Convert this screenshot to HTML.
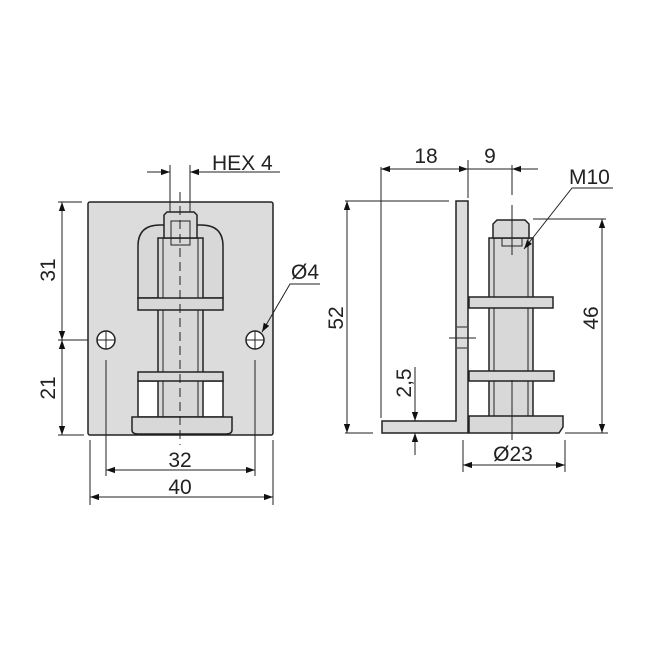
<!DOCTYPE html>
<html><head><meta charset="utf-8"><style>html,body{margin:0;padding:0;background:#fff}svg{display:block}</style></head>
<body>
<svg width="650" height="650" viewBox="0 0 650 650" xmlns="http://www.w3.org/2000/svg">
<defs>
<marker id="a" viewBox="0 0 10 10" refX="10" refY="5" markerWidth="9" markerHeight="9" orient="auto-start-reverse" markerUnits="userSpaceOnUse"><path d="M0,1.5 L10,5 L0,8.5 Z" fill="#111"/></marker>
</defs>
<g font-family="Liberation Sans, sans-serif" font-size="21" fill="#222">
<!-- LEFT VIEW -->
<g stroke="#222" stroke-width="1.5">
<rect x="88" y="202" width="185" height="233" rx="2" fill="#dcdcdc"/>
<path d="M138,298 V246 Q138,225 160,225 H201 Q223,225 223,246 V298 Z" fill="#d8d8d8"/>
<rect x="138" y="381" width="85" height="36" fill="#fff"/>
<rect x="158" y="238" width="45" height="179" fill="#d8d8d8"/>
<line x1="163" y1="238" x2="163" y2="417" stroke-width="1"/>
<line x1="198" y1="238" x2="198" y2="417" stroke-width="1"/>
<path d="M164,238 V215 L167,212 H194 L197,215 V238 Z" fill="#d8d8d8"/>
<rect x="171" y="221" width="19" height="24" fill="none" stroke-width="1"/>
<rect x="138" y="298" width="85" height="12" fill="#d8d8d8"/>
<rect x="138" y="372" width="85" height="9" fill="#d8d8d8"/>
<path d="M132,417 H232 V430 Q232,434 226,434 H138 Q132,434 132,430 Z" fill="#d8d8d8"/>
<circle cx="106" cy="340" r="9" fill="#fff"/>
<circle cx="255" cy="340" r="9" fill="#fff"/>
</g>
<g stroke="#222" stroke-width="1" fill="none">
<line x1="180" y1="192" x2="180" y2="445" stroke-dasharray="9,5"/>
<line x1="97" y1="340" x2="115" y2="340"/><line x1="106" y1="331" x2="106" y2="349"/>
<line x1="246" y1="340" x2="264" y2="340"/><line x1="255" y1="331" x2="255" y2="349"/>
<line x1="170" y1="165" x2="170" y2="212"/><line x1="190" y1="165" x2="190" y2="212"/>
<line x1="147" y1="172" x2="170" y2="172" marker-end="url(#a)"/>
<line x1="280" y1="172" x2="190" y2="172" marker-end="url(#a)"/>
<line x1="58" y1="202" x2="82" y2="202"/><line x1="58" y1="340" x2="88" y2="340"/><line x1="58" y1="435" x2="84" y2="435"/>
<line x1="62" y1="270" x2="62" y2="202" marker-end="url(#a)"/><line x1="62" y1="270" x2="62" y2="340" marker-end="url(#a)"/>
<line x1="62" y1="388" x2="62" y2="340" marker-end="url(#a)"/><line x1="62" y1="388" x2="62" y2="435" marker-end="url(#a)"/>
<line x1="106" y1="360" x2="106" y2="476"/><line x1="255" y1="360" x2="255" y2="476"/>
<line x1="90" y1="440" x2="90" y2="505"/><line x1="273" y1="440" x2="273" y2="505"/>
<line x1="180" y1="470" x2="106" y2="470" marker-end="url(#a)"/><line x1="180" y1="470" x2="255" y2="470" marker-end="url(#a)"/>
<line x1="180" y1="497" x2="90" y2="497" marker-end="url(#a)"/><line x1="180" y1="497" x2="273" y2="497" marker-end="url(#a)"/>
<polyline points="320,284 290,284 262,332" marker-end="url(#a)" fill="none"/>
</g>
<text x="212" y="170">HEX 4</text>
<text x="291" y="279">Ø4</text>
<text x="180" y="467" text-anchor="middle">32</text>
<text x="180" y="494" text-anchor="middle">40</text>
<text transform="translate(55,270) rotate(-90)" text-anchor="middle">31</text>
<text transform="translate(55,388) rotate(-90)" text-anchor="middle">21</text>

<!-- RIGHT VIEW -->
<g stroke="#222" stroke-width="1.5">
<path d="M456,201 H468 V433 H382 V421 H456 Z" fill="#dcdcdc"/>
<rect x="489" y="238" width="44" height="179" fill="#d8d8d8"/>
<line x1="494" y1="238" x2="494" y2="417" stroke-width="1"/>
<line x1="528" y1="238" x2="528" y2="417" stroke-width="1"/>
<path d="M493,238 V224 L497,220 H525 L529,224 V238 Z" fill="#d8d8d8"/>
<rect x="502" y="238" width="20" height="8" fill="none" stroke-width="1"/>
<rect x="469" y="297" width="84" height="11" fill="#d8d8d8"/>
<rect x="469" y="371" width="85" height="10" fill="#d8d8d8"/>
<path d="M469,416 H563 V427 L559,433 H469 Z" fill="#d8d8d8"/>
</g>
<g stroke="#222" stroke-width="1" fill="none">
<line x1="457" y1="327" x2="467" y2="327"/><line x1="457" y1="348" x2="467" y2="348"/>
<line x1="449" y1="338" x2="476" y2="338"/>
<line x1="512" y1="165" x2="512" y2="195"/><line x1="512" y1="205" x2="512" y2="255"/>
<line x1="512" y1="380" x2="512" y2="440"/>
<line x1="381" y1="167" x2="381" y2="418"/><line x1="468" y1="160" x2="468" y2="198"/>
<line x1="428" y1="169" x2="381" y2="169" marker-end="url(#a)"/><line x1="428" y1="169" x2="468" y2="169" marker-end="url(#a)"/>
<line x1="468" y1="169" x2="512" y2="169"/><line x1="538" y1="169" x2="512" y2="169" marker-end="url(#a)"/>
<line x1="345" y1="201" x2="449" y2="201"/><line x1="345" y1="433" x2="373" y2="433"/>
<line x1="347" y1="318" x2="347" y2="201" marker-end="url(#a)"/><line x1="347" y1="318" x2="347" y2="433" marker-end="url(#a)"/>
<line x1="533" y1="219" x2="606" y2="219"/><line x1="565" y1="433" x2="608" y2="433"/>
<line x1="602" y1="318" x2="602" y2="219" marker-end="url(#a)"/><line x1="602" y1="318" x2="602" y2="433" marker-end="url(#a)"/>
<polyline points="613,188 572,188 524,249" marker-end="url(#a)"/>
<line x1="415" y1="367" x2="415" y2="421" marker-end="url(#a)"/>
<line x1="415" y1="455" x2="415" y2="433" marker-end="url(#a)"/>
<line x1="463" y1="440" x2="463" y2="472"/><line x1="565" y1="440" x2="565" y2="472"/>
<line x1="514" y1="465" x2="463" y2="465" marker-end="url(#a)"/><line x1="514" y1="465" x2="565" y2="465" marker-end="url(#a)"/>
</g>
<text x="426" y="163" text-anchor="middle">18</text>
<text x="490" y="163" text-anchor="middle">9</text>
<text x="569" y="184">M10</text>
<text x="513" y="461" text-anchor="middle">Ø23</text>
<text transform="translate(343,318) rotate(-90)" text-anchor="middle">52</text>
<text transform="translate(598,318) rotate(-90)" text-anchor="middle">46</text>
<text transform="translate(411,383) rotate(-90)" text-anchor="middle">2,5</text>
</g>
</svg>
</body></html>
